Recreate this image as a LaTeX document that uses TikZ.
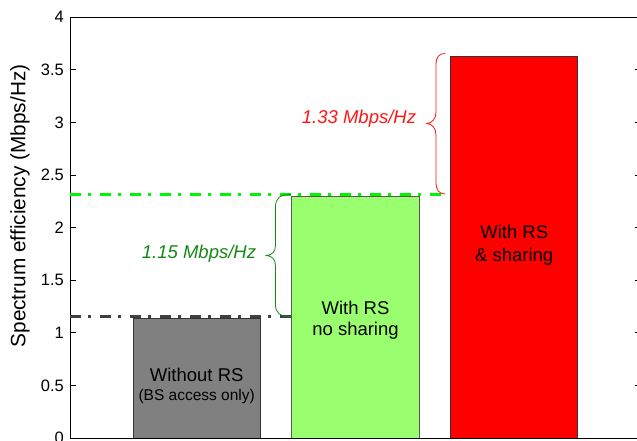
\documentclass[tikz,border=0pt]{standalone}
\usepackage{fontspec}
\setmainfont{Liberation Sans}
\definecolor{barGray}{RGB}{128,128,128}
\definecolor{barGreen}{RGB}{153,255,110}
\definecolor{barRed}{RGB}{255,0,0}
\definecolor{lineGreen}{RGB}{0,245,0}
\definecolor{lineGray}{RGB}{64,64,64}
\definecolor{noteGreen}{RGB}{20,135,20}
\definecolor{noteRed}{RGB}{255,20,20}
\tikzset{
  bar/.style={draw=black!80, line width=0.8pt},
  ticklabel/.style={anchor=east, font=\fontsize{16.5}{16.5}\selectfont, inner sep=0pt},
  barlabel/.style={font=\fontsize{18.5}{18.5}\selectfont, inner sep=0pt},
  sublabel/.style={font=\fontsize{15.5}{15.5}\selectfont, inner sep=0pt},
  note/.style={font=\fontsize{18.5}{18.5}\selectfont\itshape, inner sep=0pt},
  refline/.style={line width=3.3pt, dash pattern=on 11pt off 7pt on 3pt off 9pt},
  bracepath/.style={line width=0.8pt}
}
\begin{document}
\begin{tikzpicture}[x=1pt, y=-1pt]
\useasboundingbox (0,0) rectangle (637,441);
\begin{scope}
\clip (0,0) rectangle (637,441);

% bars
\fill[barGray]  (133.3,318.3) rectangle (260,438);
\draw[bar]      (133.3,438) -- (133.3,318.3) -- (260,318.3) -- (260,438);
\fill[barGreen] (291.7,196.7) rectangle (419.3,438);
\draw[bar, draw=black!65] (291.7,438) -- (291.7,196.7) -- (419.3,196.7) -- (419.3,438);
\fill[barRed]   (450.7,56) rectangle (577.7,438);
\draw[bar]      (450.7,438) -- (450.7,56) -- (577.7,56) -- (577.7,438);

% axes frame
\draw[line width=1pt] (70,17.3) -- (70,438.5) -- (645,438.5);
\draw[line width=1pt] (70,17.3) -- (645,17.3);
\draw[line width=1pt] (641,17.3) -- (641,438.5);

% ticks and tick labels
\foreach \v/\lab in {0/0,0.5/0.5,1/1,1.5/1.5,2/2,2.5/2.5,3/3,3.5/3.5,4/4}{
  \pgfmathsetmacro{\yy}{438-105.2*\v}
  \draw[line width=0.8pt] (70,\yy) -- (76,\yy);
  \draw[line width=0.8pt] (635,\yy) -- (641,\yy);
  \node[ticklabel] (t\lab) at (64,\yy) {\lab};
}

% reference levels
\coordinate (gA) at (70,316.7);
\coordinate (gB) at (293,316.7);
\coordinate (lA) at (70,194.3);
\coordinate (lB) at (445,194.3);
\draw[refline, lineGray]  (gA) -- (gB);
\draw[refline, lineGreen] (lA) -- (lB);

% braces
\draw[bracepath, noteGreen]
  (291,194.5) .. controls (280,194.5) and (275.5,198) .. (275.5,207)
  -- (275.5,245) .. controls (275.5,252) and (272,255) .. (266.5,255.5)
  .. controls (272,256) and (275.5,259) .. (275.5,266)
  -- (275.5,305) .. controls (275.5,313) and (280,316.5) .. (291,316.5);
\draw[bracepath, noteRed]
  (445,53.5) .. controls (439,53.5) and (436,57) .. (436,65)
  -- (436,112) .. controls (436,119) and (432,123) .. (427,123.5)
  .. controls (432,124) and (436,128) .. (436,135)
  -- (436,182) .. controls (436,190) and (439,194) .. (445,194);

% bar labels
\node[barlabel] (l1a) at (196.7,375) {Without RS};
\node[sublabel] (l1b) at (196.7,396) {(BS access only)};
\node[barlabel] (l2a) at (355.5,308) {With RS};
\node[barlabel] (l2b) at (355.5,331) {no sharing};
\node[barlabel] (l3a) at (514.2,232) {With RS};
\node[barlabel] (l3b) at (514.2,256.5) {\& sharing};

% gain annotations
\node[note, text=noteGreen] (n1) at (199,253.3) {1.15 Mbps/Hz};
\node[note, text=noteRed]   (n2) at (359,119) {1.33 Mbps/Hz};

% y-axis title
\node[rotate=90, font=\fontsize{20.8}{20.8}\selectfont, inner sep=0pt] (ytitle) at (20,206) {Spectrum efficiency (Mbps/Hz)};
\end{scope}
\end{tikzpicture}
\end{document}
